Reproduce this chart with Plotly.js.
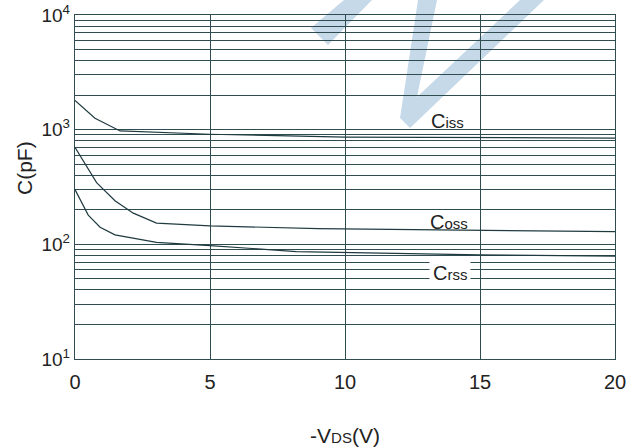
<!DOCTYPE html>
<html>
<head>
<meta charset="utf-8">
<script src="https://cdn.plot.ly/plotly-3.0.1.min.js"></script>
<style>html,body{margin:0;padding:0;background:#fff;}</style>
</head>
<body>
<div id="chart" style="width:626px;height:447px;"></div>
<script>
// -VDS (V) sample points and capacitances (pF)
const cissX = [0, 0.74, 1.67, 5, 10, 15, 20];
const cissY = [1800, 1260, 975, 912, 860, 850, 845];
const cossX = [0, 0.8, 1.48, 2.16, 3.02, 5, 9, 15, 20];
const cossY = [700, 345, 240, 187, 153, 145, 137, 132, 129];
const crssX = [0, 0.49, 0.93, 1.48, 3.02, 5, 8.2, 10, 15, 20];
const crssY = [300, 180, 141, 121, 104, 97.5, 86.5, 85, 81, 79];

const xTickVals = [0, 5, 10, 15, 20];
const xTickText = ['0', '5', '10', '15', '20'];
const yTickVals = [10, 100, 1000, 10000];
const yTickText = ['10<sup>1</sup>', '10<sup>2</sup>', '10<sup>3</sup>', '10<sup>4</sup>'];
const gridMultipliers = [2, 3, 4, 5, 6, 7, 8, 9];

const labelNames = ['C<span style="font-size:15px">iss</span>',
                    'C<span style="font-size:15px">oss</span>',
                    'C<span style="font-size:15px">rss</span>'];
const labelX = [13.8, 13.85, 13.9];
const labelY = [1190, 157, 56];

// minor grid lines at 2..9 x each decade
const minorVals = [];
yTickVals.slice(0, 3).forEach(d => gridMultipliers.forEach(m => minorVals.push(d * m)));

const lineColor = '#1f3b40';
const gridColor = '#2f4c51';
const fontFamily = 'Liberation Sans, Arial, sans-serif';
const font = {family: fontFamily, size: 19, color: '#222'};

const traces = [
  {x: cissX, y: cissY, name: 'Ciss'},
  {x: cossX, y: cossY, name: 'Coss'},
  {x: crssX, y: crssY, name: 'Crss'}
].map(t => Object.assign(t, {type: 'scatter', mode: 'lines', line: {color: lineColor, width: 1.2}, hoverinfo: 'skip'}));

// watermark polygon in pixel coords converted to paper coords
const L = 75, R = 615, T = 15, B = 359;
function px(x) { return ((x - L) / (R - L)).toFixed(4); }
function py(y) { return ((B - y) / (B - T)).toFixed(4); }
function poly(pts) { return 'M' + pts.map(p => px(p[0]) + ',' + py(p[1])).join(' L') + ' Z'; }

const wmColor = '#c6d9e9';
const shapes = [
  {type: 'path', xref: 'paper', yref: 'paper', layer: 'below', line: {width: 0}, fillcolor: wmColor,
   path: poly([[344, 0], [372, 0], [328, 45], [311, 28]])},
  {type: 'path', xref: 'paper', yref: 'paper', layer: 'below', line: {width: 0}, fillcolor: wmColor,
   path: poly([[418, 0], [437, 0], [417, 97], [520, 0], [544, 0], [410, 128], [400, 118]])}
];

const annotations = labelNames.map((t, i) => ({
  x: labelX[i], y: Math.log10(labelY[i]), xref: 'x', yref: 'y', text: t, showarrow: false,
  font: {family: fontFamily, size: 20, color: '#222'}, xanchor: 'center', yanchor: 'middle',
  bgcolor: i === 2 ? '#ffffff' : 'rgba(0,0,0,0)', borderpad: i === 2 ? 3 : 0
}));
// y-axis title placed as rotated annotation
annotations.push({x: (24 - L) / (R - L), y: (B - 168) / (B - T), xref: 'paper', yref: 'paper',
  text: 'C(pF)', textangle: -90, showarrow: false, xanchor: 'center', yanchor: 'middle',
  font: {family: fontFamily, size: 21, color: '#222'}});

const layout = {
  width: 626, height: 447,
  margin: {l: 75, r: 11, t: 15, b: 88},
  paper_bgcolor: '#ffffff', plot_bgcolor: 'rgba(0,0,0,0)',
  showlegend: false, font: font,
  xaxis: {range: [0, 20], tickvals: xTickVals, ticktext: xTickText, showgrid: true, gridcolor: gridColor, gridwidth: 1,
          showline: true, linecolor: gridColor, linewidth: 1.2, mirror: true, ticks: '', zeroline: false,
          ticklabelstandoff: 5, ticklabeloverflow: 'allow',
          tickfont: {size: 20}, title: {text: '-V<span style="font-size:15px">DS</span>(V)', font: {size: 21}, standoff: 40}},
  yaxis: {type: 'log', range: [1, 4], tickvals: yTickVals, ticktext: yTickText, showgrid: true, gridcolor: gridColor, gridwidth: 1,
          showline: true, linecolor: gridColor, linewidth: 1.2, mirror: true, ticks: '', zeroline: false,
          tickfont: {size: 19}, ticklabeloverflow: 'allow',
          minor: {tickvals: minorVals, showgrid: true, gridcolor: gridColor, gridwidth: 1, ticks: ''}},
  shapes: shapes, annotations: annotations
};

Plotly.newPlot('chart', traces, layout, {staticPlot: true});
</script>
</body>
</html>
